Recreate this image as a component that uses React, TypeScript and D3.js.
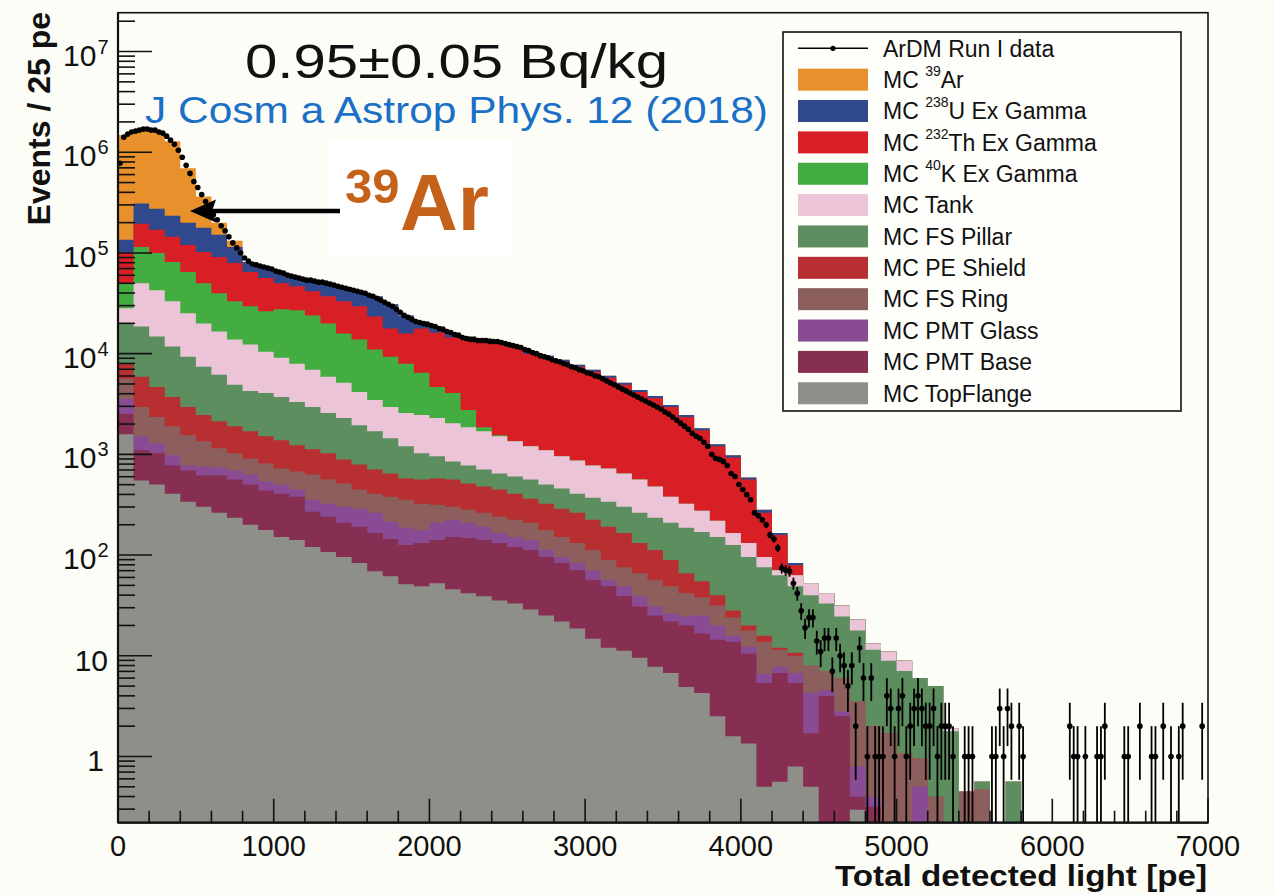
import React from 'react';
import * as d3 from 'd3';

const FONT = '"Liberation Sans", Arial, Helvetica, sans-serif';

// ---------- axes ----------
const X_MIN = 0;
const X_MAX = 7000;
const Y_MIN = 0.22;
const Y_MAX = 2.43e7;
const xMajorTicks = [0, 1000, 2000, 3000, 4000, 5000, 6000, 7000];
const xTickLabels = ['0', '1000', '2000', '3000', '4000', '5000', '6000', '7000'];
const yDecades = [0, 1, 2, 3, 4, 5, 6, 7];

// ---------- MC stack (log10 of events / 25 pe at the top of each cumulative layer) ----------
// 100-pe wide bins starting at 0 pe; null = the component adds nothing in that bin
const MC_BIN = 100;
const topFlangeTop = [3.20, 2.74, 2.70, 2.61, 2.53, 2.48, 2.42, 2.37, 2.30, 2.25,
  2.18, 2.15, 2.08, 2.03, 1.98, 1.92, 1.84, 1.79, 1.71, 1.69,
  1.72, 1.66, 1.62, 1.59, 1.55, 1.52, 1.46, 1.40, 1.34, 1.27,
  1.17, 1.08, 1.05, 0.98, 0.89, 0.83, 0.69, 0.63, 0.40, 0.20,
  0.13, -0.30, -0.25, -0.10, -0.30, null, null, -0.53];
const pmtBaseTop = [3.40, 3.04, 3.01, 2.89, 2.84, 2.79, 2.79, 2.75, 2.70, 2.64,
  2.61, 2.58, 2.43, 2.38, 2.32, 2.28, 2.22, 2.16, 2.10, 2.12,
  2.15, 2.18, 2.17, 2.15, 2.12, 2.08, 2.05, 1.98, 1.92, 1.85,
  1.75, 1.69, 1.59, 1.49, 1.40, 1.34, 1.30, 1.22, 1.16, 1.14,
  1.02, 0.73, 0.83, 0.73, 0.23, 0.60, 0.40, -0.40, -0.50];
const pmtGlassTop = [3.55, 3.18, 3.11, 2.99, 2.89, 2.88, 2.87, 2.84, 2.80, 2.73,
  2.70, 2.65, 2.55, 2.51, 2.48, 2.46, 2.42, 2.33, 2.27, 2.25,
  2.32, 2.35, 2.32, 2.28, 2.22, 2.18, 2.15, 2.05, 1.98, 1.92,
  1.85, 1.75, 1.69, 1.59, 1.49, 1.42, 1.39, 1.40, 1.30, 1.20,
  1.09, 0.82, 0.89, 0.83, 0.63, 0.66, 0.45, -0.10, -0.40, null,
  null, -0.30];
const fsRingTop = [3.75, 3.47, 3.37, 3.28, 3.19, 3.13, 3.06, 3.01, 2.96, 2.91,
  2.86, 2.83, 2.80, 2.75, 2.71, 2.65, 2.61, 2.58, 2.55, 2.51,
  2.50, 2.48, 2.45, 2.42, 2.38, 2.35, 2.32, 2.25, 2.18, 2.12,
  2.05, 1.95, 1.88, 1.82, 1.75, 1.69, 1.62, 1.58, 1.50, 1.38,
  1.25, 1.14, 1.06, 1.00, 0.90, 0.85, 0.78, 0.55, 0.30, 0.23,
  0.03, -0.02, -0.40, null, -0.35, -0.33];
const peShieldTop = [3.90, 3.77, 3.67, 3.57, 3.47, 3.39, 3.33, 3.28, 3.23, 3.18,
  3.14, 3.09, 3.05, 3.01, 2.95, 2.90, 2.85, 2.81, 2.76, 2.75,
  2.76, 2.75, 2.71, 2.68, 2.65, 2.61, 2.56, 2.51, 2.46, 2.42,
  2.35, 2.28, 2.22, 2.12, 2.05, 1.95, 1.82, 1.74, 1.60, 1.45,
  1.30, 1.20, 1.08, 1.03];
const fsPillarTop = [4.30, 4.27, 4.17, 4.07, 3.97, 3.87, 3.79, 3.69, 3.63, 3.61,
  3.57, 3.52, 3.47, 3.41, 3.36, 3.29, 3.23, 3.16, 3.08, 3.01,
  2.98, 2.93, 2.89, 2.85, 2.81, 2.78, 2.75, 2.70, 2.66, 2.61,
  2.57, 2.53, 2.48, 2.42, 2.37, 2.32, 2.27, 2.23, 2.18, 2.10,
  1.98, 1.88, 1.80, 1.69, 1.60, 1.52, 1.39, 1.25, 1.06, 0.95,
  0.85, 0.78, 0.70, 0.25, null, -0.25, null, -0.25];
const tankTop = [4.45, 4.70, 4.63, 4.52, 4.40, 4.30, 4.22, 4.14, 4.09, 4.02,
  3.96, 3.90, 3.84, 3.77, 3.71, 3.62, 3.54, 3.47, 3.41, 3.39,
  3.36, 3.31, 3.27, 3.23, 3.18, 3.13, 3.08, 3.04, 2.98, 2.94,
  2.89, 2.86, 2.81, 2.75, 2.68, 2.58, 2.51, 2.44, 2.34, 2.22,
  2.12, 1.98, 1.85, 1.80, 1.72, 1.62, 1.50, 1.36, 1.12, 1.04,
  0.95, null, null, 0.28];
const k40Top = [4.70, 5.06, 5.00, 4.91, 4.81, 4.70, 4.60, 4.52, 4.47, 4.42,
  4.44, 4.43, 4.38, 4.30, 4.20, 4.14, 4.04, 3.97, 3.90, 3.81,
  3.67, 3.61, 3.44, 3.27, 3.19];
const th232Top = [5.00, 5.29, 5.23, 5.16, 5.08, 5.01, 4.96, 4.90, 4.81, 4.75,
  4.70, 4.67, 4.62, 4.57, 4.52, 4.47, 4.37, 4.25, 4.20, 4.25,
  4.21, 4.16, 4.14, 4.13, 4.10, 4.06, 4.00, 3.96, 3.92, 3.87,
  3.82, 3.76, 3.69, 3.62, 3.56, 3.47, 3.37, 3.24, 3.08, 2.97,
  2.75, 2.42, 2.20, 1.90];
const u238Top = [5.13, 5.49, 5.44, 5.37, 5.30, 5.25, 5.18, 5.06, 4.91, 4.85,
  4.80, 4.76, 4.72, 4.69, 4.66, 4.62, 4.57, 4.49, 4.38, 4.32,
  4.27, 4.21, 4.17, 4.15, 4.12, 4.08, 4.02, 3.98, 3.94, 3.89,
  3.84, 3.78, 3.71, 3.64, 3.58, 3.49, 3.39, 3.26, 3.10, 2.99,
  2.77, 2.45, 2.22, 1.92];
const ar39Top = [6.17, 6.22, 6.21, 6.11, 5.84, 5.56, 5.30, 5.12];

// ---------- ArDM Run I data, 25-pe bins ----------
const DATA_BIN = 25;
// bins 0..174: log10(events)
const dataLog10 = [
  5.89, 6.15, 6.18, 6.20, 6.21, 6.22, 6.23, 6.23, 6.22, 6.22,
  6.20, 6.19, 6.16, 6.12, 6.08, 6.02, 5.95, 5.87, 5.79, 5.71,
  5.65, 5.58, 5.51, 5.44, 5.38, 5.33, 5.27, 5.22, 5.16, 5.10,
  5.05, 5.00, 4.95, 4.92, 4.89, 4.88, 4.87, 4.86, 4.85, 4.84,
  4.82, 4.81, 4.80, 4.78, 4.77, 4.76, 4.75, 4.74, 4.73, 4.73,
  4.72, 4.71, 4.71, 4.70, 4.69, 4.68, 4.67, 4.66, 4.65, 4.64,
  4.63, 4.62, 4.61, 4.60, 4.58, 4.57, 4.55, 4.53, 4.51, 4.49,
  4.47, 4.44, 4.41, 4.38, 4.36, 4.34, 4.32, 4.31, 4.30, 4.29,
  4.28, 4.27, 4.25, 4.24, 4.22, 4.21, 4.19, 4.18, 4.16, 4.15,
  4.14, 4.14, 4.13, 4.13, 4.13, 4.12, 4.12, 4.12, 4.11, 4.10,
  4.09, 4.08, 4.07, 4.06, 4.04, 4.03, 4.01, 4.00, 3.98, 3.97,
  3.96, 3.94, 3.93, 3.92, 3.90, 3.89, 3.87, 3.86, 3.84, 3.83,
  3.81, 3.80, 3.78, 3.77, 3.75, 3.73, 3.71, 3.69, 3.67, 3.65,
  3.63, 3.61, 3.59, 3.57, 3.55, 3.53, 3.51, 3.49, 3.47, 3.45,
  3.42, 3.40, 3.37, 3.34, 3.31, 3.28, 3.25, 3.21, 3.18, 3.16,
  3.12, 3.08, 3.00, 2.96, 2.95, 2.93, 2.89, 2.81, 2.78, 2.70,
  2.65, 2.60, 2.55, 2.42, 2.39, 2.35, 2.30, 2.20, 2.16, 2.07,
  1.87, 1.85, 1.84, 1.72, 1.62];
// bins 175..279: raw counts
const dataTailCounts = [
  28, 19, 24, 24, 14, 11, 15, 15, 7, 15,
  10, 8, 5, 8, 2, 12, 6, 1, 6, 1,
  1, 1, 4, 3, 1, 3, 4, 1, 2, 3,
  4, 3, 2, 2, 3, 1, 2, 2, 2, 1,
  0, 0, 1, 1, 1, 0, 0, 0, 0, 1,
  1, 3, 1, 3, 2, 0, 2, 1, 0, 0,
  0, 0, 0, 0, 0, 0, 0, 0, 0, 2,
  1, 1, 0, 1, 0, 0, 1, 1, 2, 0,
  0, 0, 0, 1, 1, 0, 0, 2, 0, 0,
  1, 1, 0, 2, 0, 1, 0, 1, 2, 0,
  0, 0, 0, 2, 0];

// ---------- styling ----------
const COLORS: Record<string, string> = {
  ar39: '#e8902b',
  u238: '#30498c',
  th232: '#d91f26',
  k40: '#44ad41',
  tank: '#ebc4d8',
  fsPillar: '#5d8e60',
  peShield: '#b82f31',
  fsRing: '#8c5e5c',
  pmtGlass: '#894b93',
  pmtBase: '#872e53',
  topFlange: '#8e8f88',
};

// bottom -> top stacking order
const stackLayers = [
  { key: 'topFlange', tops: topFlangeTop },
  { key: 'pmtBase', tops: pmtBaseTop },
  { key: 'pmtGlass', tops: pmtGlassTop },
  { key: 'fsRing', tops: fsRingTop },
  { key: 'peShield', tops: peShieldTop },
  { key: 'fsPillar', tops: fsPillarTop },
  { key: 'tank', tops: tankTop },
  { key: 'k40', tops: k40Top },
  { key: 'th232', tops: th232Top },
  { key: 'u238', tops: u238Top },
  { key: 'ar39', tops: ar39Top },
];

const legendEntries: { key: string; pre: string; sup?: string; post?: string }[] = [
  { key: 'data', pre: 'ArDM Run I data' },
  { key: 'ar39', pre: 'MC ', sup: '39', post: 'Ar' },
  { key: 'u238', pre: 'MC ', sup: '238', post: 'U Ex Gamma' },
  { key: 'th232', pre: 'MC ', sup: '232', post: 'Th Ex Gamma' },
  { key: 'k40', pre: 'MC ', sup: '40', post: 'K Ex Gamma' },
  { key: 'tank', pre: 'MC Tank' },
  { key: 'fsPillar', pre: 'MC FS Pillar' },
  { key: 'peShield', pre: 'MC PE Shield' },
  { key: 'fsRing', pre: 'MC FS Ring' },
  { key: 'pmtGlass', pre: 'MC PMT Glass' },
  { key: 'pmtBase', pre: 'MC PMT Base' },
  { key: 'topFlange', pre: 'MC TopFlange' },
];

const BG = '#fdfdf7';

export default function App() {
  const L = 118, R = 1208, T = 12.7, B = 822.7;
  const x = d3.scaleLinear().domain([X_MIN, X_MAX]).range([L, R]);
  const y = d3.scaleLog().domain([Y_MIN, Y_MAX]).range([B, T]);
  const yBottom = B;

  const nBins = Math.round((X_MAX - X_MIN) / MC_BIN);
  const cumulative: (number | null)[][] = [];
  let below: (number | null)[] = new Array(nBins).fill(null);
  for (const layer of stackLayers) {
    const cur = d3.range(nBins).map((i) => {
      const v = i < layer.tops.length ? (layer.tops[i] as number | null) : null;
      const b = below[i];
      if (v == null) return b;
      return b == null ? v : Math.max(v, b);
    });
    cumulative.push(cur);
    below = cur;
  }

  type StepPt = { e: number; t: number | null };
  const area = d3
    .area<StepPt>()
    .x((d) => x(d.e))
    .y0(yBottom)
    .y1((d) => (d.t == null ? yBottom : y(Math.pow(10, d.t))))
    .curve(d3.curveStepAfter);
  const pathFor = (tops: (number | null)[]) =>
    area([
      ...tops.map((t, i) => ({ e: X_MIN + i * MC_BIN, t })),
      { e: X_MAX, t: tops[tops.length - 1] },
    ]) || '';

  const dataPts = [
    ...dataLog10.map((v, k) => ({ k, n: Math.pow(10, v) })),
    ...dataTailCounts.map((n, j) => ({ k: dataLog10.length + j, n })),
  ].filter((d) => d.n > 0);

  // ticks
  const yMinor: number[] = [];
  for (let p = -1; p <= 7; p++) {
    for (let m = 2; m <= 9; m++) {
      const v = m * Math.pow(10, p);
      if (v > Y_MIN && v < Y_MAX) yMinor.push(v);
    }
  }
  const xMinor = d3.range(X_MIN, X_MAX + 1, 200).filter((v) => v % 1000 !== 0);

  const legX = 783, legY = 32, legW = 398, legH = 379;
  const rowY0 = 48.3, rowDy = 31.36;

  return (
    <svg
      width={1274}
      height={895}
      style={{ position: 'absolute', left: 0, top: 0, display: 'block' }}
      fontFamily={FONT}
    >
      <rect x={0} y={0} width={1274} height={895} fill={BG} />
      <defs>
        <clipPath id="plotClip">
          <rect x={L} y={T} width={R - L} height={B - T} />
        </clipPath>
      </defs>

      {/* stacked MC histograms: draw cumulative from top layer down */}
      <g clipPath="url(#plotClip)">
        {stackLayers
          .map((layer, idx) => ({ layer, idx }))
          .reverse()
          .map(({ layer, idx }) => (
            <path key={layer.key} d={pathFor(cumulative[idx])} fill={COLORS[layer.key]} stroke="none" />
          ))}
        {/* data */}
        {dataPts.map((d) => {
          const cx = x((d.k + 0.5) * DATA_BIN);
          const err = Math.sqrt(d.n);
          const hi = y(d.n + err);
          const lo = d.n - err > Y_MIN ? y(d.n - err) : yBottom;
          return (
            <g key={'d' + d.k}>
              <line x1={cx} x2={cx} y1={hi} y2={lo} stroke="#000" strokeWidth={1.8} />
              <circle cx={cx} cy={y(d.n)} r={2.8} fill="#000" />
            </g>
          );
        })}
      </g>

      {/* frame */}
      <rect x={L} y={T} width={R - L} height={B - T} fill="none" stroke="#111" strokeWidth={1.6} />
      <line x1={L} x2={L} y1={T} y2={B} stroke="#111" strokeWidth={2.2} />
      <line x1={L} x2={R} y1={B} y2={B} stroke="#111" strokeWidth={2.2} />

      {/* x ticks */}
      {xMajorTicks.map((v, i) => (
        <g key={'xt' + v}>
          <line x1={x(v)} x2={x(v)} y1={B} y2={B - 24} stroke="#111" strokeWidth={1.6} />
          <text x={x(v)} y={856} fontSize={29} textAnchor="middle" fill="#111">
            {xTickLabels[i]}
          </text>
        </g>
      ))}
      {xMinor.map((v) => (
        <line key={'xm' + v} x1={x(v)} x2={x(v)} y1={B} y2={B - 12} stroke="#111" strokeWidth={1.6} />
      ))}

      {/* y ticks */}
      {yDecades.map((p) => {
        const v = Math.pow(10, p);
        const yy = y(v);
        return (
          <g key={'yt' + p}>
            <line x1={L} x2={L + 34} y1={yy} y2={yy} stroke="#111" strokeWidth={1.6} />
            {p === 0 ? (
              <text x={104} y={yy + 15} fontSize={30} textAnchor="end" fill="#111">1</text>
            ) : p === 1 ? (
              <text x={108} y={yy + 15} fontSize={30} textAnchor="end" fill="#111">10</text>
            ) : (
              <text x={63} y={yy + 14} fontSize={30} fill="#111">
                10
                <tspan dx={1} dy={-12} fontSize={20}>{p}</tspan>
              </text>
            )}
          </g>
        );
      })}
      {yMinor.map((v) => (
        <line key={'ym' + v} x1={L} x2={L + 17} y1={y(v)} y2={y(v)} stroke="#111" strokeWidth={1.6} />
      ))}

      {/* axis titles */}
      <text x={1207} y={886} fontSize={29} fontWeight="bold" textAnchor="end" fill="#111"
        textLength={372} lengthAdjust="spacingAndGlyphs">
        Total detected light [pe]
      </text>
      <text
        transform="translate(50,12) rotate(-90)"
        fontSize={32}
        fontWeight="bold"
        textAnchor="end"
        fill="#111"
      >
        Events / 25 pe
      </text>

      {/* annotations */}
      <text x={245} y={78} fontSize={49} fill="#111" textLength={423} lengthAdjust="spacingAndGlyphs">
        0.95±0.05 Bq/kg
      </text>
      <text x={145} y={123} fontSize={36} fill="#1a6fc6" textLength={623} lengthAdjust="spacingAndGlyphs">
        J Cosm a Astrop Phys. 12 (2018)
      </text>

      <rect x={328} y={140} width={185} height={116} fill="#ffffff" />
      <text x={345} y={203} fontSize={49} fontWeight="bold" fill="#c4621a">39</text>
      <text x={400} y={230} fontSize={80} fontWeight="bold" fill="#c4621a">Ar</text>
      <line x1={340} x2={210} y1={211} y2={211} stroke="#000" strokeWidth={4.5} />
      <polygon points="190,211 216,199.5 212,211 216,222.5" fill="#000" />

      {/* legend */}
      <rect x={legX} y={legY} width={legW} height={legH} fill="#fefefb" stroke="#111" strokeWidth={1.6} />
      {legendEntries.map((e, r) => {
        const cy = rowY0 + r * rowDy;
        return (
          <g key={'lg' + e.key}>
            {e.key === 'data' ? (
              <g>
                <line x1={798} x2={868} y1={cy} y2={cy} stroke="#000" strokeWidth={1.5} />
                <circle cx={833} cy={cy} r={2.6} fill="#000" />
              </g>
            ) : (
              <rect x={798} y={cy - 11} width={70} height={22} fill={COLORS[e.key]} />
            )}
            <text x={883} y={cy + 8.3} fontSize={23} fill="#111">
              {e.pre}
              {e.sup ? (
                <tspan dy={-12} fontSize={14}>{e.sup}</tspan>
              ) : null}
              {e.post ? <tspan dy={e.sup ? 12 : 0}>{e.post}</tspan> : null}
            </text>
          </g>
        );
      })}
    </svg>
  );
}
